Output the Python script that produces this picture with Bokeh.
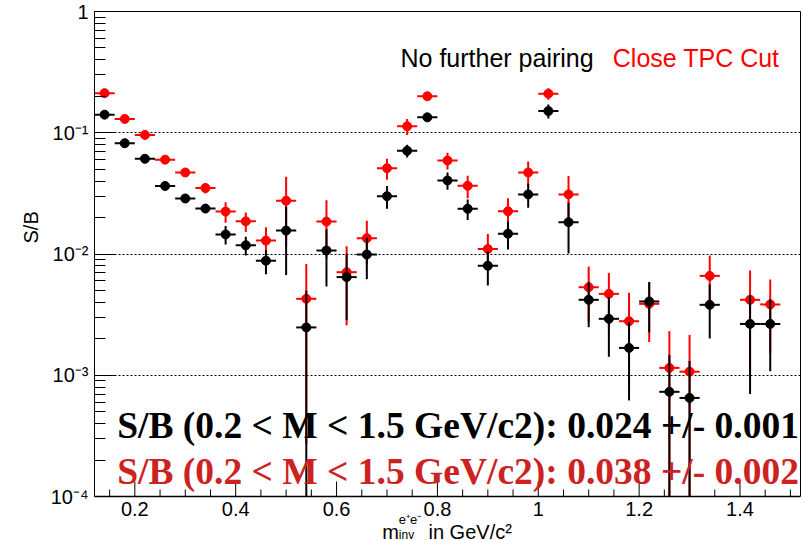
import numpy as np
from math import pi
from bokeh.plotting import figure
from bokeh.models import (FixedTicker, CustomJSTickFormatter, Label, ColumnDataSource,
                          Span, Title, LinearAxis, LogAxis)
from bokeh.core.properties import value
from bokeh.embed import file_html
from bokeh.resources import INLINE

# ---------------- data ----------------
mass = [0.14, 0.18, 0.22, 0.26, 0.30, 0.34, 0.38, 0.42, 0.46, 0.50, 0.54,
        0.58, 0.62, 0.66, 0.70, 0.74, 0.78, 0.82, 0.86, 0.90, 0.94, 0.98,
        1.02, 1.06, 1.10, 1.14, 1.18, 1.22, 1.26, 1.30, 1.34, 1.42, 1.46]
bin_half_width = 0.02

# "No further pairing" (black)
sb_none = [0.141, 0.082, 0.061, 0.0364, 0.0287, 0.0237, 0.0145, 0.0118, 0.0088,
           0.0156, 0.00248, 0.0107, 0.00645, 0.0099, 0.030, 0.071, 0.134,
           0.0404, 0.0236, 0.0080, 0.0147, 0.031, 0.151, 0.0183, 0.00419,
           0.00292, 0.00168, 0.00406, 0.00073, 0.00065, 0.00381, 0.00265, 0.00265]
err_none = [0.004, 0.003, 0.0025, 0.002, 0.0017, 0.0017, 0.0025, 0.0021, 0.002,
            0.0089, 0.0025, 0.0053, 0.0036, 0.0037, 0.0064, 0.0085, 0.008,
            0.0065, 0.0045, 0.0025, 0.0038, 0.0069, 0.020, 0.0082, 0.0017,
            0.0015, 0.00106, 0.0018, 0.00074, 0.00066, 0.0018, 0.00195, 0.00157]

# "Close TPC Cut" (red)
sb_tpc = [0.212, 0.130, 0.096, 0.060, 0.047, 0.035, 0.0224, 0.0186, 0.0129,
          0.0275, 0.00427, 0.0185, 0.00708, 0.0135, 0.051, 0.113, 0.200,
          0.059, 0.0365, 0.011, 0.0225, 0.047, 0.210, 0.031, 0.00532,
          0.00469, 0.00279, 0.00388, 0.00115, 0.00107, 0.0066, 0.00419, 0.00384]
err_tpc = [0.006, 0.005, 0.004, 0.003, 0.0028, 0.0035, 0.0043, 0.0034, 0.0037,
           0.0159, 0.0040, 0.0093, 0.0045, 0.0053, 0.010, 0.017, 0.012,
           0.0093, 0.0077, 0.0036, 0.0063, 0.011, 0.023, 0.0129, 0.00256,
           0.0023, 0.0020, 0.0020, 0.00116, 0.00108, 0.0031, 0.00312, 0.00233]

x_major = [0.2, 0.4, 0.6, 0.8, 1.0, 1.2, 1.4]
x_major_labels = ["0.2", "0.4", "0.6", "0.8", "1", "1.2", "1.4"]
x_minor = [0.15, 0.25, 0.3, 0.35, 0.45, 0.5, 0.55, 0.65, 0.7, 0.75, 0.85, 0.9,
           0.95, 1.05, 1.1, 1.15, 1.25, 1.3, 1.35, 1.45, 1.5]
y_major = [1e-4, 1e-3, 1e-2, 1e-1, 1.0]

legend_none = "No further pairing"
legend_tpc = "Close TPC Cut"
summary_none = "S/B (0.2 < M < 1.5 GeV/c2): 0.024 +/- 0.001"
summary_tpc = "S/B (0.2 < M < 1.5 GeV/c2): 0.038 +/- 0.002"
y_title = "S/B"

RED = "#ff0000"
DARKRED = "#cc2222"
FONT = "Liberation Sans"

# ---------------- geometry ----------------
X_MIN, X_MAX = 0.12, 1.52
Y_AX = 1e-4                     # value at which the x axis sits
PX_PER_DEC = 121.25             # pixels per decade on the y axis
FRAME_BOTTOM_PAD = 44           # pixels of frame kept below the x axis
y_start = Y_AX * 10 ** (-FRAME_BOTTOM_PAD / PX_PER_DEC)


def y_off(px):
    """value that lies px pixels above (px>0) or below (px<0) the x axis"""
    return Y_AX * 10 ** (px / PX_PER_DEC)


p = figure(width=804, height=540, x_range=(X_MIN, X_MAX), y_range=(y_start, 1.0),
           y_axis_type="log", output_backend="svg", toolbar_location=None,
           min_border_left=94, min_border_right=4, min_border_top=11,
           min_border_bottom=0, background_fill_color="white",
           border_fill_color="white")
p.xaxis.visible = False
p.outline_line_color = None
p.xgrid.visible = False
p.ygrid.grid_line_color = "black"
p.ygrid.grid_line_dash = "2 2"
p.ygrid.grid_line_width = 1

yax = p.yaxis[0]
yax.bounds = (Y_AX, 1.0)
yax.ticker = FixedTicker(
    ticks=y_major,
    minor_ticks=[k * 10.0 ** d for d in range(-4, 0) for k in range(2, 10)])
yax.formatter = CustomJSTickFormatter(code="""
const sup = {"0":"\u2070","1":"\u00b9","2":"\u00b2","3":"\u00b3","4":"\u2074","-":"\u207b"};
const e = Math.round(Math.log10(tick));
if (e === 0) return "1";
return "10" + String(e).split("").map(c => sup[c]).join("");
""")
yax.axis_line_color = "black"
yax.major_tick_line_color = "black"
yax.minor_tick_line_color = "black"
yax.major_tick_out = 0
yax.minor_tick_out = 0
yax.major_tick_in = 21
yax.minor_tick_in = 11
yax.major_label_standoff = 6
yax.major_label_text_font = FONT
yax.major_label_text_font_size = "20px"
yax.major_label_text_color = "black"

# frame borders (top / right) as bare axes
top_ax = LinearAxis(ticker=FixedTicker(ticks=[]), major_tick_in=0, major_tick_out=0,
                    minor_tick_in=0, minor_tick_out=0,
                    major_label_text_font_size="0px", axis_line_color="black")
right_ax = LogAxis(ticker=FixedTicker(ticks=[]), bounds=(Y_AX, 1.0), major_tick_in=0,
                   major_tick_out=0, minor_tick_in=0, minor_tick_out=0,
                   major_label_text_font_size="0px", axis_line_color="black")
p.add_layout(top_ax, "above")
p.add_layout(right_ax, "right")

# x axis drawn inside the frame
p.add_layout(Span(location=Y_AX, dimension="width", line_color="black", line_width=1.5))
p.segment(x0=x_major, y0=[Y_AX] * len(x_major), x1=x_major,
          y1=[y_off(15)] * len(x_major), line_color="black", line_width=1)
p.segment(x0=x_minor, y0=[Y_AX] * len(x_minor), x1=x_minor,
          y1=[y_off(7)] * len(x_minor), line_color="black", line_width=1)
p.text(x=x_major, y=[y_off(-5)] * len(x_major), text=x_major_labels,
       text_font=value(FONT), text_font_size="20px", text_align="center",
       text_baseline="top", text_color="black")


def draw_series(yv, ev, color):
    x = np.array(mass)
    y = np.array(yv)
    e = np.array(ev)
    lo = np.maximum(y - e, Y_AX)
    src = ColumnDataSource(dict(x=x, y=y, lo=lo, hi=y + e,
                                xl=x - bin_half_width, xr=x + bin_half_width))
    p.segment(x0="x", y0="lo", x1="x", y1="hi", source=src,
              line_color=color, line_width=2)
    p.segment(x0="xl", y0="y", x1="xr", y1="y", source=src,
              line_color=color, line_width=2)
    p.scatter(x="x", y="y", source=src, marker="circle", size=9,
              fill_color=color, line_color=color)


draw_series(sb_tpc, err_tpc, RED)
draw_series(sb_none, err_none, "black")

# ---------------- texts ----------------
def add_label(x, y, text, size, color="black", font=FONT,
              style="normal", align="left", baseline="alphabetic"):
    p.add_layout(Label(x=x, y=y, text=text, text_font=font,
                       text_font_size=size, text_color=color,
                       text_font_style=style, text_align=align,
                       text_baseline=baseline))

add_label(0.7268, 0.41, legend_none, "25px")
add_label(1.1478, 0.41, legend_tpc, "25px", color=RED)

add_label(0.165, 3.85e-4, summary_none, "37.5px", font="Liberation Serif", style="bold")
add_label(0.165, 1.608e-4, summary_tpc, "37.5px", color=DARKRED,
          font="Liberation Serif", style="bold")

# x-axis title: m_inv^{e+e-} in GeV/c^2
add_label(0.6905, y_off(-35), "m", "20px")
add_label(0.7235, y_off(-23), "e\u207ae\u207b", "13px")
add_label(0.7235, y_off(-38), "inv", "12px")
add_label(0.7823, y_off(-35), "in GeV/c\u00b2", "20px")

# y-axis title
p.add_layout(Title(text=y_title, align="left", offset=297, standoff=7,
                   vertical_align="top", text_font=FONT, text_font_size="20px",
                   text_font_style="normal", text_color="black"), "left")

with open("out.html", "w", encoding="utf-8") as f:
    f.write(file_html(p, INLINE))
